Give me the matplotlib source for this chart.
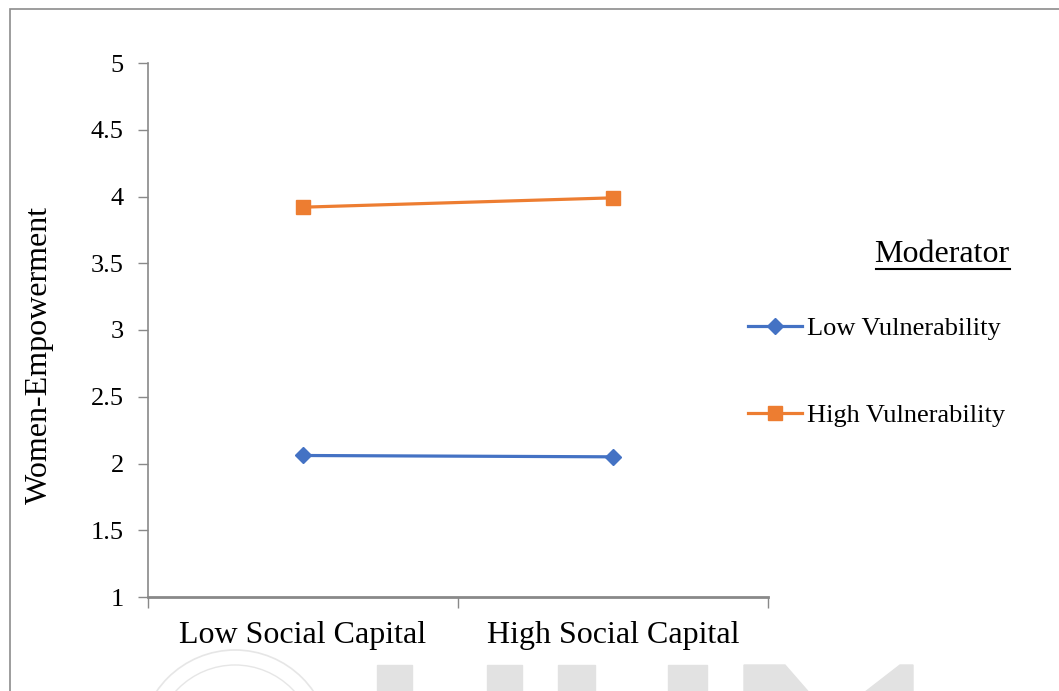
import matplotlib
matplotlib.use("Agg")
import matplotlib.pyplot as plt
from matplotlib.patches import Rectangle, Polygon, Arc

categories = ["Low Social Capital", "High Social Capital"]
low_vuln = [2.06, 2.05]
high_vuln = [3.92, 3.99]
yticks = [1, 1.5, 2, 2.5, 3, 3.5, 4, 4.5, 5]
ytick_labels = ["1", "1.5", "2", "2.5", "3", "3.5", "4", "4.5", "5"]

plt.rcParams['font.family'] = ['Liberation Serif', 'DejaVu Serif']

W, H = 1059, 691
fig = plt.figure(figsize=(W/100, H/100), dpi=100)

def fx(px):
    return px / W

def fy(py):
    return 1 - py / H

# faded watermark at the bottom
wm = '#e2e2e2'
for x0, x1 in [(377, 412), (487, 522), (558, 595), (668, 707)]:
    fig.patches.append(Rectangle((fx(x0), fy(H + 5)), fx(x1) - fx(x0), fy(665) - fy(H + 5),
                                 transform=fig.transFigure, color=wm, zorder=0))
fig.patches.append(Polygon([(fx(744), fy(H + 5)), (fx(744), fy(665)), (fx(785), fy(665)),
                            (fx(812), fy(H + 5))], closed=True, transform=fig.transFigure,
                           color=wm, zorder=0))
fig.patches.append(Polygon([(fx(860), fy(H + 5)), (fx(900), fy(665)), (fx(913), fy(665)),
                            (fx(913), fy(H + 5))], closed=True, transform=fig.transFigure,
                           color=wm, zorder=0))
for r, lw in [(95, 1.2), (80, 1.0)]:
    fig.patches.append(Arc((fx(235), fy(745)), 2 * r / W, 2 * r / H, theta1=0, theta2=180,
                           transform=fig.transFigure, color='#e6e6e6', linewidth=lw, zorder=0))

fig.patches.append(Rectangle((fx(10), -0.1), 1.2, fy(9) + 0.1, transform=fig.transFigure,
                             fill=False, edgecolor='#8c8c8c', linewidth=1.2))

ax = fig.add_axes([fx(148), fy(597), fx(768) - fx(148), fy(63) - fy(597)])
ax.patch.set_alpha(0)
x = [0.5, 1.5]
ax.plot(x, low_vuln, color='#4472C4', linewidth=2.3, marker='D', markersize=8,
        label='Low Vulnerability')
ax.plot(x, high_vuln, color='#ED7D31', linewidth=2.3, marker='s', markersize=10.5,
        label='High Vulnerability')

ax.set_xlim(0, 2)
ax.set_ylim(1, 5)
ax.set_yticks(yticks)
ax.set_yticklabels(ytick_labels, fontsize=19)
ax.set_xticks([0, 1, 2])
ax.set_xticklabels([])
ax.set_xticks(x, minor=True)
ax.set_xticklabels(categories, minor=True, fontsize=23)
ax.tick_params(axis='x', which='minor', length=0, pad=17)
ax.tick_params(axis='x', which='major', length=8, color='#898989', width=1)
ax.tick_params(axis='y', length=7, color='#898989', width=1, pad=10.5)
for s in ['top', 'right']:
    ax.spines[s].set_visible(False)
ax.spines['left'].set_color('#898989')
ax.spines['left'].set_linewidth(1.2)
ax.spines['bottom'].set_color('#898989')
ax.spines['bottom'].set_linewidth(2)

fig.text(fx(39), fy(355), 'Women-Empowerment', fontsize=23, rotation=90,
         ha='center', va='center')

fig.text(fx(942), fy(255), 'Moderator', fontsize=23, ha='center', va='center')
fig.add_artist(plt.Line2D([fx(876), fx(1010)], [fy(269), fy(269)], color='black', linewidth=1.5))

handles, labels = ax.get_legend_handles_labels()
leg = fig.legend(handles, labels, loc='upper left', bbox_to_anchor=(fx(748), fy(317)),
                 frameon=False, fontsize=19, handlelength=2.05, handletextpad=0.2,
                 labelspacing=2.38, borderaxespad=0, borderpad=0)

fig.savefig('out.png', dpi=100)
